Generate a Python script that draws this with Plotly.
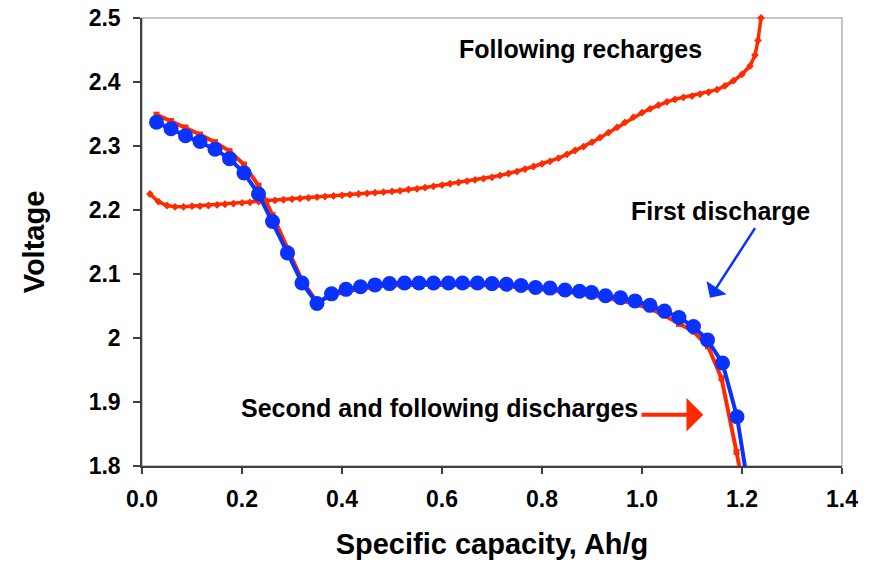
import plotly.graph_objects as go

# ---------------- data ----------------
first_x = [0.029, 0.058, 0.087, 0.116, 0.146, 0.175, 0.204, 0.233, 0.261, 0.291,
           0.320, 0.350, 0.379, 0.408, 0.437, 0.466, 0.495, 0.525, 0.554, 0.583,
           0.613, 0.641, 0.671, 0.700, 0.729, 0.758, 0.787, 0.816, 0.846, 0.875,
           0.899, 0.927, 0.957, 0.986, 1.016, 1.045, 1.074, 1.103, 1.131, 1.161,
           1.190, 1.214]
first_y = [2.337, 2.327, 2.316, 2.307, 2.295, 2.280, 2.258, 2.225, 2.182, 2.133,
           2.086, 2.054, 2.069, 2.076, 2.080, 2.083, 2.085, 2.086, 2.086, 2.086,
           2.086, 2.086, 2.086, 2.085, 2.084, 2.082, 2.079, 2.078, 2.075, 2.073,
           2.071, 2.066, 2.063, 2.058, 2.051, 2.042, 2.032, 2.018, 1.997, 1.961,
           1.877, 1.760]

second_x = [0.029, 0.058, 0.087, 0.116, 0.146, 0.175, 0.204, 0.233, 0.261, 0.291,
            0.320, 0.350, 0.379, 0.408, 0.437, 0.466, 0.495, 0.525, 0.554, 0.583,
            0.613, 0.641, 0.671, 0.700, 0.729, 0.758, 0.787, 0.816, 0.846, 0.875,
            0.899, 0.927, 0.957, 0.986, 1.016, 1.045, 1.074, 1.103, 1.132, 1.159,
            1.189, 1.205]
second_y = [2.349, 2.339, 2.329, 2.318, 2.306, 2.292, 2.271, 2.238, 2.192, 2.140,
            2.090, 2.056, 2.066, 2.073, 2.077, 2.080, 2.082, 2.083, 2.083, 2.083,
            2.083, 2.083, 2.083, 2.082, 2.081, 2.079, 2.076, 2.075, 2.072, 2.070,
            2.068, 2.062, 2.059, 2.053, 2.046, 2.035, 2.022, 2.010, 1.987, 1.937,
            1.822, 1.758]

recharge_x = [0.016, 0.033, 0.050, 0.066, 0.083, 0.100, 0.116, 0.133, 0.150, 0.166,
              0.183, 0.200, 0.216, 0.233, 0.250, 0.266, 0.283, 0.300, 0.316, 0.333,
              0.350, 0.366, 0.383, 0.400, 0.416, 0.433, 0.450, 0.466, 0.483, 0.500,
              0.516, 0.533, 0.550, 0.566, 0.583, 0.600, 0.616, 0.633, 0.650, 0.666,
              0.683, 0.700, 0.716, 0.733, 0.750, 0.766, 0.783, 0.800, 0.816, 0.833,
              0.850, 0.866, 0.883, 0.900, 0.916, 0.933, 0.950, 0.966, 0.983, 1.000,
              1.016, 1.033, 1.050, 1.066, 1.083, 1.100, 1.116, 1.133, 1.150, 1.166,
              1.183, 1.200, 1.216, 1.226, 1.232, 1.238]
recharge_y = [2.225, 2.213, 2.207, 2.205, 2.205, 2.206, 2.206, 2.207, 2.208, 2.209,
              2.210, 2.211, 2.212, 2.213, 2.214, 2.215, 2.216, 2.217, 2.218, 2.219,
              2.220, 2.221, 2.222, 2.223, 2.224, 2.225, 2.226, 2.227, 2.228, 2.229,
              2.230, 2.232, 2.233, 2.235, 2.237, 2.239, 2.241, 2.243, 2.245, 2.247,
              2.249, 2.251, 2.254, 2.257, 2.260, 2.264, 2.268, 2.272, 2.276, 2.281,
              2.287, 2.293, 2.299, 2.306, 2.313, 2.321, 2.329, 2.337, 2.345, 2.352,
              2.358, 2.364, 2.369, 2.373, 2.376, 2.378, 2.381, 2.384, 2.388, 2.394,
              2.402, 2.412, 2.425, 2.442, 2.465, 2.500]

x_ticks = [0.0, 0.2, 0.4, 0.6, 0.8, 1.0, 1.2, 1.4]
x_tick_text = ["0.0", "0.2", "0.4", "0.6", "0.8", "1.0", "1.2", "1.4"]
y_ticks = [1.8, 1.9, 2.0, 2.1, 2.2, 2.3, 2.4, 2.5]
y_tick_text = ["1.8", "1.9", "2", "2.1", "2.2", "2.3", "2.4", "2.5"]

RED = "#FF2A00"
BLUE = "#0A32FF"
FONT = "Liberation Sans, Arial, sans-serif"

fig = go.Figure()
fig.add_trace(go.Scatter(x=recharge_x, y=recharge_y, mode="lines+markers",
                         line=dict(color=RED, width=3.5),
                         marker=dict(symbol="diamond", size=6, color=RED),
                         cliponaxis=False,
                         name="Following recharges"))
fig.add_trace(go.Scatter(x=second_x, y=second_y, mode="lines+markers",
                         line=dict(color=RED, width=4),
                         marker=dict(symbol="square", size=6, color=RED),
                         name="Second and following discharges"))
fig.add_trace(go.Scatter(x=first_x, y=first_y, mode="lines+markers",
                         line=dict(color=BLUE, width=4),
                         marker=dict(symbol="circle", size=15, color=BLUE),
                         name="First discharge"))

annot_font = dict(family=FONT, size=25, color="black")
fig.add_annotation(x=0.876, y=2.452, text="<b>Following recharges</b>", showarrow=False,
                   font=annot_font, xanchor="center", yanchor="middle")
fig.add_annotation(x=1.156, y=2.199, text="<b>First discharge</b>", showarrow=False,
                   font=annot_font, xanchor="center", yanchor="middle")
fig.add_annotation(x=0.595, y=1.891, text="<b>Second and following discharges</b>",
                   showarrow=False, font=annot_font, xanchor="center", yanchor="middle")
# arrows
fig.add_annotation(x=1.136, y=2.063, ax=1.228, ay=2.174, axref="x", ayref="y",
                   xref="x", yref="y", text="", showarrow=True,
                   arrowhead=1, arrowsize=1.6, arrowwidth=2.5, arrowcolor=BLUE)
fig.add_annotation(x=1.1226, y=1.880, ax=0.996, ay=1.880, axref="x", ayref="y",
                   xref="x", yref="y", text="", showarrow=True,
                   arrowhead=1, arrowsize=1.4, arrowwidth=4, arrowcolor=RED)

# light grey frame on top/right
fig.add_shape(type="rect", xref="paper", yref="paper", x0=0, y0=0, x1=1, y1=1,
              line=dict(color="#B4B4B4", width=1.5), layer="below")

fig.update_layout(
    width=861, height=554,
    margin=dict(l=134, r=27, t=9.5, b=96, autoexpand=False),
    paper_bgcolor="white", plot_bgcolor="rgba(0,0,0,0)",
    showlegend=False,
    font=dict(family=FONT, color="black"),
    xaxis=dict(range=[0, 1.4], tickvals=x_ticks, ticktext=x_tick_text,
               automargin=False, ticklabeloverflow="allow",
               showgrid=False, zeroline=False, showline=True, linecolor="#404040",
               linewidth=1.5, ticks="outside", ticklen=6, tickcolor="#404040",
               tickwidth=1.5, tickfont=dict(family=FONT, size=23, weight="bold"),
               ticklabelstandoff=6,
               title=dict(text="<b>Specific capacity, Ah/g</b>",
                          font=dict(family=FONT, size=29), standoff=22)),
    yaxis=dict(range=[1.8, 2.5], tickvals=y_ticks, ticktext=y_tick_text,
               automargin=False, ticklabeloverflow="allow",
               showgrid=False, zeroline=False, showline=True, linecolor="#404040",
               linewidth=1.5, ticks="outside", ticklen=7, tickcolor="#404040",
               tickwidth=1.5, tickfont=dict(family=FONT, size=23, weight="bold"),
               ticklabelstandoff=8,
               title=dict(text="<b>Voltage</b>",
                          font=dict(family=FONT, size=29), standoff=36)),
)

fig.write_html("out.html")
